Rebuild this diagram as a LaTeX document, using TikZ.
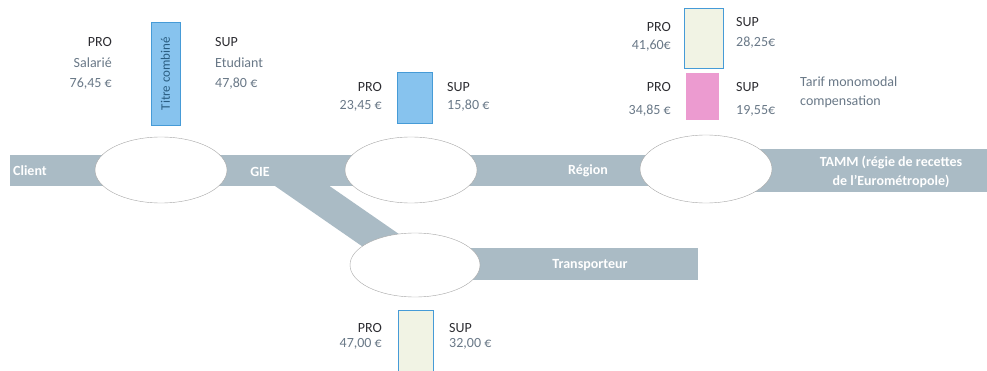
\documentclass[tikz,border=0pt]{standalone}
\usepackage{fontspec}
\setmainfont{Carlito}
\usetikzlibrary{shapes.geometric}

\definecolor{bandgray}{RGB}{170,187,197}
\definecolor{boxblue}{RGB}{135,195,238}
\definecolor{edgeblue}{RGB}{70,155,215}
\definecolor{boxpink}{RGB}{236,155,208}
\definecolor{boxpale}{RGB}{241,243,228}
\definecolor{valgray}{RGB}{105,120,135}
\definecolor{labdark}{RGB}{45,45,50}

\begin{document}
\begin{tikzpicture}[x=1pt,y=-1pt,
  band/.style={draw=bandgray,line width=31pt},
  halo/.style={ellipse,draw=gray!70,fill=white,thin,minimum width=132pt,minimum height=66pt,inner sep=0pt},
  bandtxt/.style={text=white,font=\fontsize{14}{16}\selectfont\bfseries,inner sep=0pt},
  lab/.style={text=labdark,font=\fontsize{14}{16}\selectfont,inner sep=0pt},
  val/.style={text=valgray,font=\fontsize{14}{16}\selectfont,inner sep=0pt},
  tarif/.style={draw=edgeblue,line width=0.8pt,inner sep=0pt}]

\useasboundingbox (0,0) rectangle (987,371);

\coordinate (bandL) at (10,171);
\coordinate (bandM) at (706,171);
\coordinate (bandR) at (987,171);
\coordinate (fork) at (282,172);
\coordinate (transpL) at (415,264);
\coordinate (transpR) at (698,264);
\coordinate (cClient) at (161,170);
\coordinate (cGIE) at (411,170);
\coordinate (cRegion) at (706,169);
\coordinate (cTransp) at (415,265);

\draw[band] (bandL) -- (bandM);
\draw[band,line width=43pt] (bandM) -- (bandR);
\draw[band] (fork) -- (transpL);
\draw[band] (transpL) -- (transpR);

\node[halo] (ellClient) at (cClient) {};
\node[halo] (ellGIE) at (cGIE) {};
\node[halo,minimum height=68pt] (ellRegion) at (cRegion) {};
\node[halo,minimum width=130pt,minimum height=64pt] (ellTransp) at (cTransp) {};

\node[bandtxt,anchor=west] (tClient) at (13,171) {Client};
\node[bandtxt] (tGIE) at (260,172) {GIE};
\node[bandtxt] (tRegion) at (588,171) {Région};
\node[bandtxt] (tTamm1) at (891,162) {TAMM (régie de recettes};
\node[bandtxt] (tTamm2) at (891,181) {de l'Eurométropole)};
\node[bandtxt] (tTransp) at (590,265) {Transporteur};

\node[tarif,fill=boxblue,rotate=90,minimum width=103pt,minimum height=29pt,
  text=edgeblue!60!black,font=\fontsize{13}{15}\selectfont] (boxTitre) at (165.5,73.5) {Titre combiné};
\node[tarif,fill=boxblue,minimum width=35pt,minimum height=51pt] (boxGIE) at (414.5,97.5) {};
\node[tarif,fill=boxpale,minimum width=39pt,minimum height=60pt] (boxTamm) at (703.5,38) {};
\node[tarif,draw=none,fill=boxpink,minimum width=33pt,minimum height=47pt] (boxComp) at (702.5,96.5) {};
\node[tarif,fill=boxpale,minimum width=35pt,minimum height=64pt] (boxTransp) at (415.5,342) {};

\node[lab,anchor=base east] (proA) at (112,47) {PRO};
\node[val,anchor=base east] (proA1) at (112,68) {Salarié};
\node[val,anchor=base east] (proA2) at (112,88) {76,45 €};
\node[lab,anchor=base west] (supA) at (215,47) {SUP};
\node[val,anchor=base west] (supA1) at (215,68) {Etudiant};
\node[val,anchor=base west] (supA2) at (215,88) {47,80 €};

\node[lab,anchor=base east] (proB) at (382,92) {PRO};
\node[val,anchor=base east] (proB1) at (382,110) {23,45 €};
\node[lab,anchor=base west] (supB) at (447,92) {SUP};
\node[val,anchor=base west] (supB1) at (447,110) {15,80 €};

\node[lab,anchor=base east] (proC) at (671,32) {PRO};
\node[val,anchor=base east] (proC1) at (671,50) {41,60€};
\node[lab,anchor=base west] (supC) at (736,27) {SUP};
\node[val,anchor=base west] (supC1) at (736,47) {28,25€};

\node[lab,anchor=base east] (proD) at (671,92) {PRO};
\node[val,anchor=base east] (proD1) at (671,115) {34,85 €};
\node[lab,anchor=base west] (supD) at (736,92) {SUP};
\node[val,anchor=base west] (supD1) at (736,115) {19,55€};
\node[val,anchor=base west] (tarifD1) at (800,87) {Tarif monomodal};
\node[val,anchor=base west] (tarifD2) at (800,106) {compensation};

\node[lab,anchor=base east] (proE) at (382,332) {PRO};
\node[val,anchor=base east] (proE1) at (382,347) {47,00 €};
\node[lab,anchor=base west] (supE) at (449,332) {SUP};
\node[val,anchor=base west] (supE1) at (449,347) {32,00 €};

\end{tikzpicture}
\end{document}
